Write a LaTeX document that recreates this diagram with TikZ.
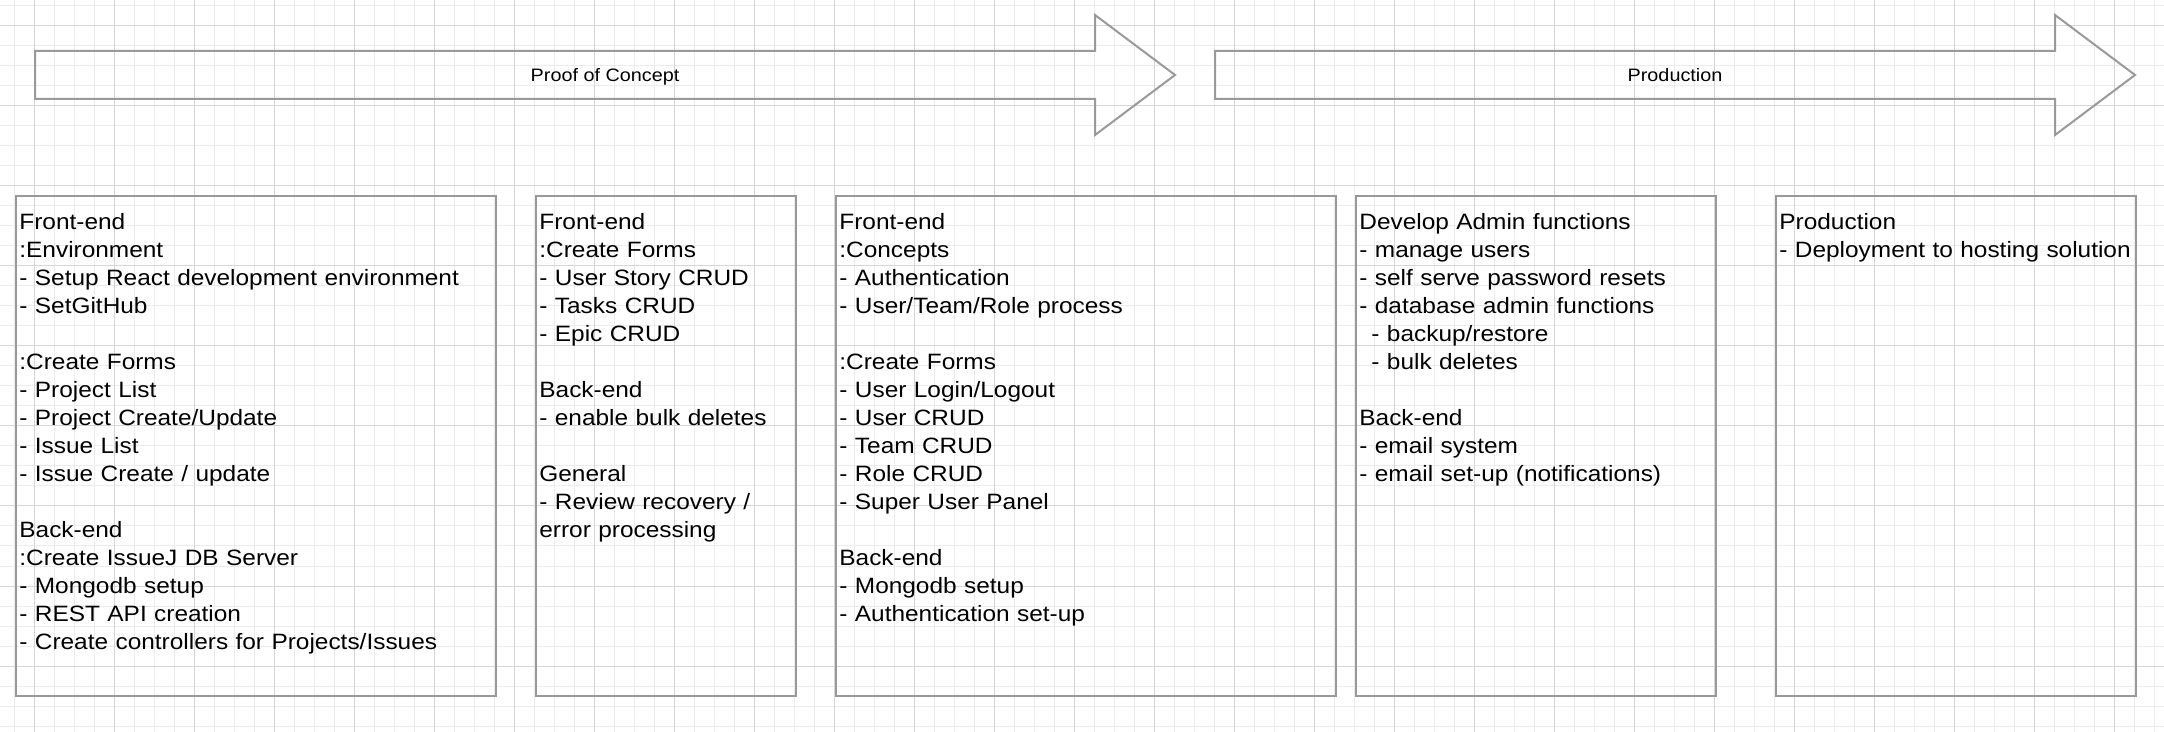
\documentclass[tikz,border=0pt]{standalone}
\usepackage{fontspec}
\usepackage{tikz}
\usetikzlibrary{positioning}
\newfontfamily\plainfont[FakeStretch=1.1]{Liberation Sans}
\definecolor{outline}{RGB}{153,153,153}
\definecolor{majorgrid}{RGB}{214,214,214}
\definecolor{minorgrid}{RGB}{236,236,236}

\tikzset{
  minorline/.style={draw=minorgrid, line width=0.5pt},
  majorline/.style={draw=majorgrid, line width=0.5pt},
  phasearrow/.style={draw=outline, line width=1pt, line join=miter},
  phasebox/.style={draw=outline, line width=1pt, rectangle, inner sep=0pt, anchor=north west},
  boxtext/.style={font=\plainfont\fontsize{11.1pt}{14pt}\selectfont, align=left, text width=#1, inner sep=0pt, anchor=base west},
  phaselabel/.style={font=\plainfont\fontsize{9pt}{11pt}\selectfont, inner sep=0pt, anchor=base}
}

\begin{document}
\begin{tikzpicture}[x=0.5pt, y=-0.5pt]
        \useasboundingbox (0,0) rectangle (2164,732);
        \clip (0,0) rectangle (2164,732);

        % grid
        \foreach \gx in {0,...,107} \draw[minorline] ({14.8+20*\gx},0) -- ({14.8+20*\gx},732);
        \foreach \gy in {0,...,36} \draw[minorline] (0,{6+20*\gy}) -- (2164,{6+20*\gy});
        \foreach \gx in {0,...,26} \draw[majorline] ({34.8+80*\gx},0) -- ({34.8+80*\gx},732);
        \foreach \gy in {0,...,8} \draw[majorline] (0,{26+80*\gy}) -- (2164,{26+80*\gy});

        % phase arrows
        \draw[phasearrow] (35,51) -- (1095,51) -- (1095,15) -- (1175,75) -- (1095,135) -- (1095,99) -- (35,99) -- cycle;
        \node (poc) [phaselabel] at (605,81.5) {Proof of Concept};

        \draw[phasearrow] (1215,51) -- (2055,51) -- (2055,15) -- (2135,75) -- (2055,135) -- (2055,99) -- (1215,99) -- cycle;
        \node (prod) [phaselabel] at (1675,81.5) {Production};

        % task boxes
        \node (boxA) [phasebox, minimum width=240pt, minimum height=250pt] at (15,195) {};
        \node (boxB) [phasebox, minimum width=130pt, minimum height=250pt] at (535,195) {};
        \node (boxC) [phasebox, minimum width=250pt, minimum height=250pt] at (835,195) {};
        \node (boxD) [phasebox, minimum width=180pt, minimum height=250pt] at (1355,195) {};
        \node (boxE) [phasebox, minimum width=180pt, minimum height=250pt] at (1775,195) {};

        \node (textA) [boxtext=236pt] at ([shift={(4,34.5)}]boxA.north west) {Front-end\\
            :Environment\\
            - Setup React development environment\\
            - SetGitHub\\[14pt]
            :Create Forms\\
            - Project List\\
            - Project Create/Update\\
            - Issue List\\
            - Issue Create / update\\[14pt]
            Back-end\\
            :Create IssueJ DB Server\\
            - Mongodb setup\\
            - REST API creation\\
            - Create controllers for Projects/Issues};

        \node (textB) [boxtext=126pt] at ([shift={(4,34.5)}]boxB.north west) {Front-end\\
            :Create Forms\\
            - User Story CRUD\\
            - Tasks CRUD\\
            - Epic CRUD\\[14pt]
            Back-end\\
            - enable bulk deletes\\[14pt]
            General\\
            - Review recovery /\\
            error processing};

        \node (textC) [boxtext=246pt] at ([shift={(4,34.5)}]boxC.north west) {Front-end\\
            :Concepts\\
            - Authentication\\
            - User/Team/Role process\\[14pt]
            :Create Forms\\
            - User Login/Logout\\
            - User CRUD\\
            - Team CRUD\\
            - Role CRUD\\
            - Super User Panel\\[14pt]
            Back-end\\
            - Mongodb setup\\
            - Authentication set-up};

        \node (textD) [boxtext=176pt] at ([shift={(4,34.5)}]boxD.north west) {Develop Admin functions\\
            - manage users\\
            - self serve password resets\\
            - database admin functions\\
            \hspace*{6pt}- backup/restore\\
            \hspace*{6pt}- bulk deletes\\[14pt]
            Back-end\\
            - email system\\
            - email set-up (notifications)};

        \node (textE) [boxtext=180pt] at ([shift={(4,34.5)}]boxE.north west) {Production\\
            - Deployment to hosting solution};
\end{tikzpicture}
\end{document}
